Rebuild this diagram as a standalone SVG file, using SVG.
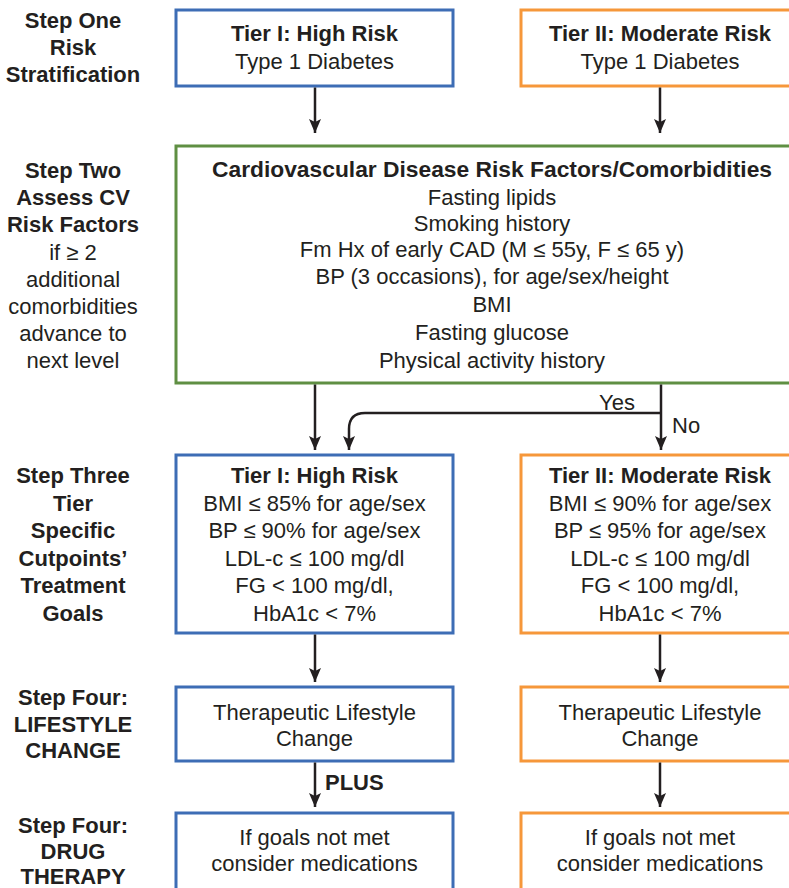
<svg xmlns="http://www.w3.org/2000/svg" width="789" height="888" viewBox="0 0 789 888">
  <style>
    text { font-family: "Liberation Sans", Arial, Helvetica, sans-serif; font-size: 22px; fill: #231f20; text-anchor: middle; }
    .b { font-weight: bold; }
    .title { font-size: 22.8px; }
    .blue { fill: #ffffff; stroke: #3d6db5; stroke-width: 3; }
    .orange { fill: #ffffff; stroke: #f6973a; stroke-width: 3; }
    .green { fill: #ffffff; stroke: #5f8f43; stroke-width: 3; }
    .conn { fill: none; stroke: #231f20; stroke-width: 2.5; marker-end: url(#ah); }
  </style>
  <defs>
    <marker id="ah" markerUnits="userSpaceOnUse" viewBox="0 0 14 12" refX="14" refY="6" markerWidth="14" markerHeight="12" orient="auto">
      <path d="M0,0 L14,6 L0,12 L3,6 z" fill="#231f20"/>
    </marker>
  </defs>
  <rect width="789" height="888" fill="#ffffff"/>

  <g id="step-labels">
    <text class="b" x="73" y="28">Step One</text>
    <text class="b" x="73" y="55">Risk</text>
    <text class="b" x="73" y="82">Stratification</text>

    <text class="b" x="73" y="178">Step Two</text>
    <text class="b" x="73" y="205">Assess CV</text>
    <text class="b" x="73" y="232">Risk Factors</text>
    <text x="73" y="260">if ≥ 2</text>
    <text x="73" y="287">additional</text>
    <text x="73" y="314">comorbidities</text>
    <text x="73" y="341">advance to</text>
    <text x="73" y="368">next level</text>

    <text class="b" x="73" y="483">Step Three</text>
    <text class="b" x="73" y="511">Tier</text>
    <text class="b" x="73" y="538">Specific</text>
    <text class="b" x="73" y="566">Cutpoints’</text>
    <text class="b" x="73" y="593">Treatment</text>
    <text class="b" x="73" y="621">Goals</text>

    <text class="b" x="73" y="705">Step Four:</text>
    <text class="b" x="73" y="732">LIFESTYLE</text>
    <text class="b" x="73" y="758">CHANGE</text>

    <text class="b" x="73" y="833">Step Four:</text>
    <text class="b" x="73" y="859">DRUG</text>
    <text class="b" x="73" y="884">THERAPY</text>
  </g>

  <g id="tier1-top">
    <rect class="blue" x="176" y="10" width="277" height="76"/>
    <text class="b" x="314.5" y="41">Tier I: High Risk</text>
    <text x="314.5" y="69">Type 1 Diabetes</text>
  </g>

  <g id="tier2-top">
    <rect class="orange" x="521" y="10" width="278" height="76"/>
    <text class="b" x="660" y="41">Tier II: Moderate Risk</text>
    <text x="660" y="69">Type 1 Diabetes</text>
  </g>

  <g id="cv-risk-factors">
    <rect class="green" x="176" y="146" width="625" height="237"/>
    <text class="b title" x="492" y="177">Cardiovascular Disease Risk Factors/Comorbidities</text>
    <text x="492" y="205">Fasting lipids</text>
    <text x="492" y="231">Smoking history</text>
    <text x="492" y="257">Fm Hx of early CAD (M ≤ 55y, F ≤ 65 y)</text>
    <text x="492" y="284">BP (3 occasions), for age/sex/height</text>
    <text x="492" y="312">BMI</text>
    <text x="492" y="340">Fasting glucose</text>
    <text x="492" y="368">Physical activity history</text>
  </g>

  <g id="tier1-goals">
    <rect class="blue" x="176" y="455" width="277" height="178"/>
    <text class="b" x="314.5" y="483">Tier I: High Risk</text>
    <text x="314.5" y="511">BMI ≤ 85% for age/sex</text>
    <text x="314.5" y="538">BP ≤ 90% for age/sex</text>
    <text x="314.5" y="566">LDL-c ≤ 100 mg/dl</text>
    <text x="314.5" y="593">FG &lt; 100 mg/dl,</text>
    <text x="314.5" y="621">HbA1c &lt; 7%</text>
  </g>

  <g id="tier2-goals">
    <rect class="orange" x="521" y="455" width="278" height="178"/>
    <text class="b" x="660" y="483">Tier II: Moderate Risk</text>
    <text x="660" y="511">BMI ≤ 90% for age/sex</text>
    <text x="660" y="538">BP ≤ 95% for age/sex</text>
    <text x="660" y="566">LDL-c ≤ 100 mg/dl</text>
    <text x="660" y="593">FG &lt; 100 mg/dl,</text>
    <text x="660" y="621">HbA1c &lt; 7%</text>
  </g>

  <g id="tier1-lifestyle">
    <rect class="blue" x="176" y="687" width="277" height="74"/>
    <text x="314.5" y="720">Therapeutic Lifestyle</text>
    <text x="314.5" y="746">Change</text>
  </g>

  <g id="tier2-lifestyle">
    <rect class="orange" x="521" y="687" width="278" height="74"/>
    <text x="660" y="720">Therapeutic Lifestyle</text>
    <text x="660" y="746">Change</text>
  </g>

  <g id="tier1-drug">
    <rect class="blue" x="176" y="813" width="277" height="90"/>
    <text x="314.5" y="845">If goals not met</text>
    <text x="314.5" y="871">consider medications</text>
  </g>

  <g id="tier2-drug">
    <rect class="orange" x="521" y="813" width="278" height="90"/>
    <text x="660" y="845">If goals not met</text>
    <text x="660" y="871">consider medications</text>
  </g>

  <g id="connectors">
    <path class="conn" d="M315,87.5 V133"/>
    <path class="conn" d="M660,87.5 V133"/>
    <path class="conn" d="M315,384.5 V450"/>
    <path class="conn" d="M661,384.5 V450"/>
    <path class="conn" d="M661,413 H365 Q349,413 349,429 V450"/>
    <text x="617" y="410">Yes</text>
    <text x="672" y="433" style="text-anchor:start">No</text>
    <path class="conn" d="M315,634.5 V682"/>
    <path class="conn" d="M660,634.5 V682"/>
    <path class="conn" d="M315,762.5 V807"/>
    <path class="conn" d="M660,762.5 V807"/>
    <text class="b" x="325" y="790" style="text-anchor:start">PLUS</text>
  </g>
</svg>
